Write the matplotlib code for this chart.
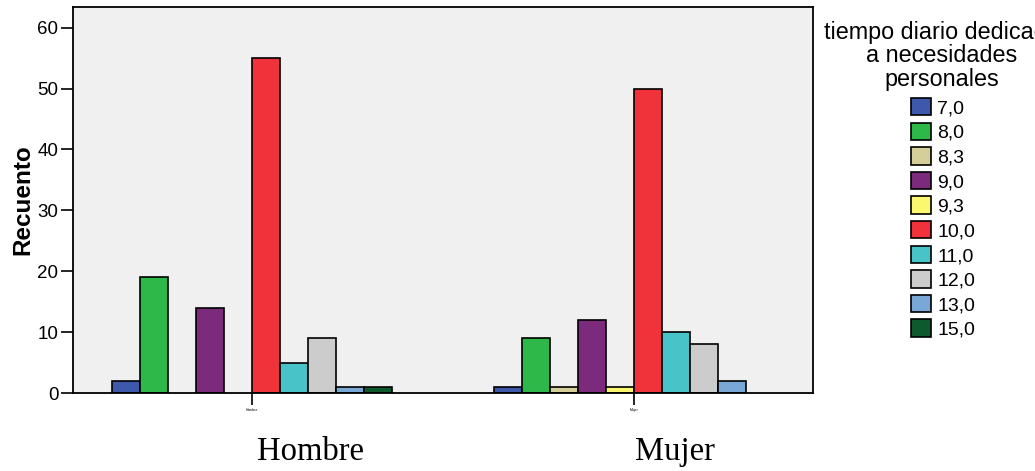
import numpy as np
import matplotlib
matplotlib.use('Agg')
import matplotlib.pyplot as plt
from matplotlib.patches import Patch

groups = ['Hombre', 'Mujer']
categories = ['7,0', '8,0', '8,3', '9,0', '9,3', '10,0', '11,0', '12,0', '13,0', '15,0']
hombre = [2, 19, 0, 14, 0, 55, 5, 9, 1, 1]
mujer = [1, 9, 1, 12, 1, 50, 10, 8, 2, 0]
colors = ['#3e58ac', '#2fb84a', '#d4ce98', '#7b2a7c', '#fbf870',
          '#f0333a', '#48c3c8', '#cccccc', '#79a7d6', '#0d5a2f']

plt.rcParams['font.family'] = ['Liberation Sans', 'DejaVu Sans']

fig = plt.figure(figsize=(10.35, 4.71), dpi=100)
ax = fig.add_axes([0.0705, 0.1656, 0.715, 0.8195])
ax.set_facecolor('#f0f0f0')

x = np.arange(len(groups))
w = 0.0733
vals = np.array([hombre, mujer])
for i, (cat, col) in enumerate(zip(categories, colors)):
    pos = x + (i - 4.5) * w
    h = vals[:, i]
    b = ax.bar(pos, h, width=w, color=col, edgecolor='black', linewidth=1.2)
    # zero counts get no visible bar
    for rect, v in zip(b, h):
        if v == 0:
            rect.set_visible(False)

ax.set_xlim(-0.4686, 1.4686)
ax.set_ylim(0, 63.4)
ax.set_yticks([0, 10, 20, 30, 40, 50, 60])
ax.set_xticks(x)
ax.set_xticklabels(groups, fontsize=2.5)
ax.tick_params(axis='y', labelsize=13.5, length=8.5, width=1.2, colors='black', pad=2)
ax.tick_params(axis='x', length=8.5, width=1.2, pad=2)
for s in ax.spines.values():
    s.set_linewidth(1.3)
    s.set_color('black')
ax.set_ylabel('Recuento', fontsize=17.5, fontweight='bold', labelpad=2)

# legend: title as separate text (runs off the right edge like the original)
fig.text(942 / 1035, 1 - 21 / 471, 'tiempo diario dedicado\na necesidades\npersonales',
         ha='center', va='top', multialignment='center', fontsize=16.8,
         linespacing=1.02)
handles = [Patch(facecolor=c, edgecolor='black', linewidth=1.2) for c in colors]
fig.legend(handles=handles, labels=categories,
           loc='upper center', bbox_to_anchor=(943 / 1035, 1 - 98 / 471),
           frameon=False, fontsize=14,
           handlelength=1.05, handleheight=1.0, handletextpad=0.3,
           labelspacing=0.27, borderpad=0, borderaxespad=0)

for name, xl in zip(groups, [257, 635]):
    fig.text(xl / 1035, 11 / 471, name, ha='left', va='baseline',
             fontsize=23.5, family='Liberation Serif')

fig.savefig('out.png', dpi=100, facecolor='white')
